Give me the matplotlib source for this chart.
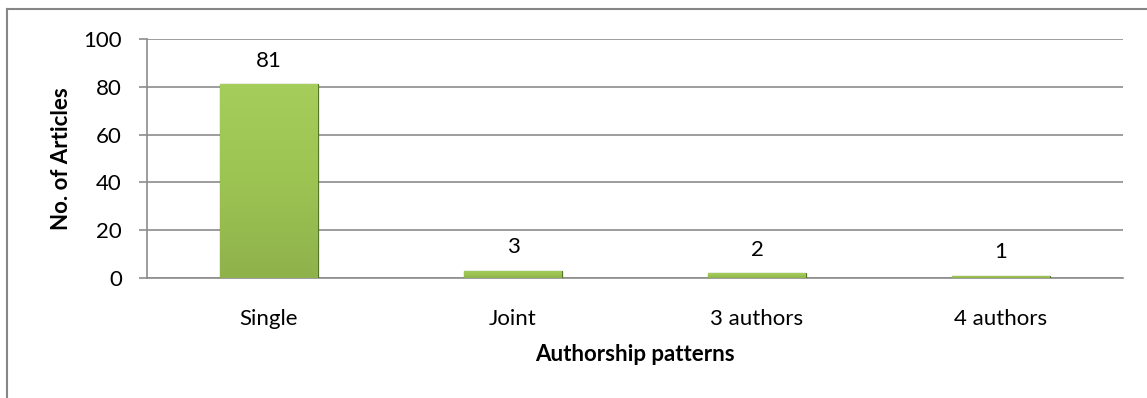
import matplotlib
matplotlib.use("Agg")
import matplotlib.pyplot as plt
from matplotlib.lines import Line2D
from matplotlib.colors import LinearSegmentedColormap
import numpy as np

categories = ["Single", "Joint", "3 authors", "4 authors"]
articles = [81, 3, 2, 1]
y_ticks = [0, 20, 40, 60, 80, 100]

plt.rcParams["font.family"] = ["Lato", "DejaVu Sans"]
fs = 16

W, H = 1147, 398
fig = plt.figure(figsize=(W / 100, H / 100), dpi=100)
ax = fig.add_axes([147 / W, 1 - 278 / H, (1123 - 147) / W, (278 - 39) / H])

grid_col = "#8c8c8c"
x = np.arange(len(categories))
bars = ax.bar(x, articles, width=0.40, color="#9bbb59",
              edgecolor="#56732a", linewidth=0.9, zorder=3)

# soft green gradient inside each bar
green = LinearSegmentedColormap.from_list("g", ["#8fb24b", "#9cc453", "#a5cd5b"])
grad = np.linspace(0, 1, 100).reshape(-1, 1)
for b in bars:
    x0, y0 = b.get_x(), b.get_y()
    im = ax.imshow(grad, cmap=green, aspect="auto", origin="lower",
                   extent=[x0, x0 + b.get_width(), y0, y0 + b.get_height()],
                   zorder=3.5)
    im.set_clip_path(b)

for xi, v in zip(x, articles):
    ax.annotate(str(v), (xi, v), xytext=(0, 17), textcoords="offset points",
                ha="center", va="center", fontsize=fs, color="black")

ax.set_xlim(-0.5, len(categories) - 0.5)
ax.set_ylim(0, 100)
ax.set_yticks(y_ticks)
ax.yaxis.grid(True, color=grid_col, linewidth=1.2, zorder=0)
ax.set_axisbelow(True)
ax.set_xticks(x)
ax.set_xticklabels(categories, fontsize=fs)
ax.tick_params(axis="x", length=0, pad=22)
ax.tick_params(axis="y", length=6, width=1.2, color=grid_col, labelsize=fs, pad=12)

for side in ["top", "right"]:
    ax.spines[side].set_visible(False)
for side in ["left", "bottom"]:
    ax.spines[side].set_color(grid_col)
    ax.spines[side].set_linewidth(1.2)

ax.set_xlabel("Authorship patterns", fontsize=fs, fontweight="bold", labelpad=11)
ax.set_ylabel("No. of Articles", fontsize=fs, fontweight="bold", labelpad=8)

# chart frame (top and left edges visible)
fig.add_artist(Line2D([7 / W, 1.0], [1 - 9 / H, 1 - 9 / H], color="#868686", lw=1.5))
fig.add_artist(Line2D([7 / W, 7 / W], [0.0, 1 - 9 / H], color="#868686", lw=1.5))

fig.savefig("out.png", dpi=100)
